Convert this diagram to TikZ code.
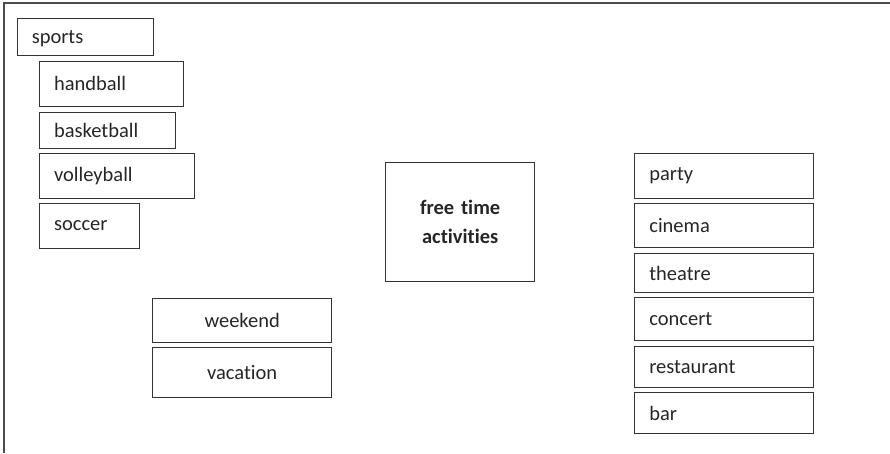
\documentclass[tikz,border=0pt]{standalone}
\usepackage{fontspec}
\setmainfont[Ligatures={NoCommon}]{Carlito}
\begin{document}
\begin{tikzpicture}[x=1pt,y=-1pt,
  box/.style={draw=black!80, line width=1.1pt, anchor=north west, inner xsep=14.5pt, inner ysep=0pt,
    font=\fontsize{20.5}{29}\selectfont, text=black!85},
  lbox/.style={box, align=left},
  cbox/.style={box, align=center}]
\useasboundingbox (0,0) rectangle (890,453);
\draw[black!70, line width=1.4pt] (4,453) coordinate (fa) -- (4,3) coordinate (fb) -- (890,3) coordinate (fc);
% sports column
\node[lbox, text width=107pt, minimum height=36.7pt, text height=12pt, text depth=0pt] (sports) at (16.7,18.3) {sports};
\node[lbox, text width=114.7pt, minimum height=45.3pt] (handball) at (39,60.7) {handball};
\node[lbox, text width=106.7pt, minimum height=36pt] (basketball) at (39,111.7) {basketball};
\node[lbox, text width=125.7pt, minimum height=44.4pt] (volleyball) at (39,153.3) {volleyball};
\node[lbox, text width=70.7pt, minimum height=45pt] (soccer) at (39,202.7) {soccer};
% center
\node[cbox, text width=119.7pt, minimum height=119.3pt, font=\fontsize{20.5}{29}\selectfont\bfseries] (free) at (385.3,161.7) {free time\\activities};
\node[cbox, text width=149.7pt, minimum height=44.3pt] (weekend) at (152.3,297.7) {weekend};
\node[cbox, text width=149.7pt, minimum height=49.4pt] (vacation) at (152.3,347.3) {vacation};
% right column
\node[lbox, text width=149.4pt, minimum height=44.4pt] (party) at (634.3,153.3) {party};
\node[lbox, text width=149.4pt, minimum height=44.6pt] (cinema) at (634.3,202.7) {cinema};
\node[lbox, text width=149.4pt, minimum height=39.6pt] (theatre) at (634.3,252.7) {theatre};
\node[lbox, text width=149.4pt, minimum height=42.7pt] (concert) at (634.3,297.3) {concert};
\node[lbox, text width=149.4pt, minimum height=41pt] (restaurant) at (634.3,345.7) {restaurant};
\node[lbox, text width=149.4pt, minimum height=41pt] (bar) at (634.3,392.3) {bar};
\end{tikzpicture}
\end{document}
